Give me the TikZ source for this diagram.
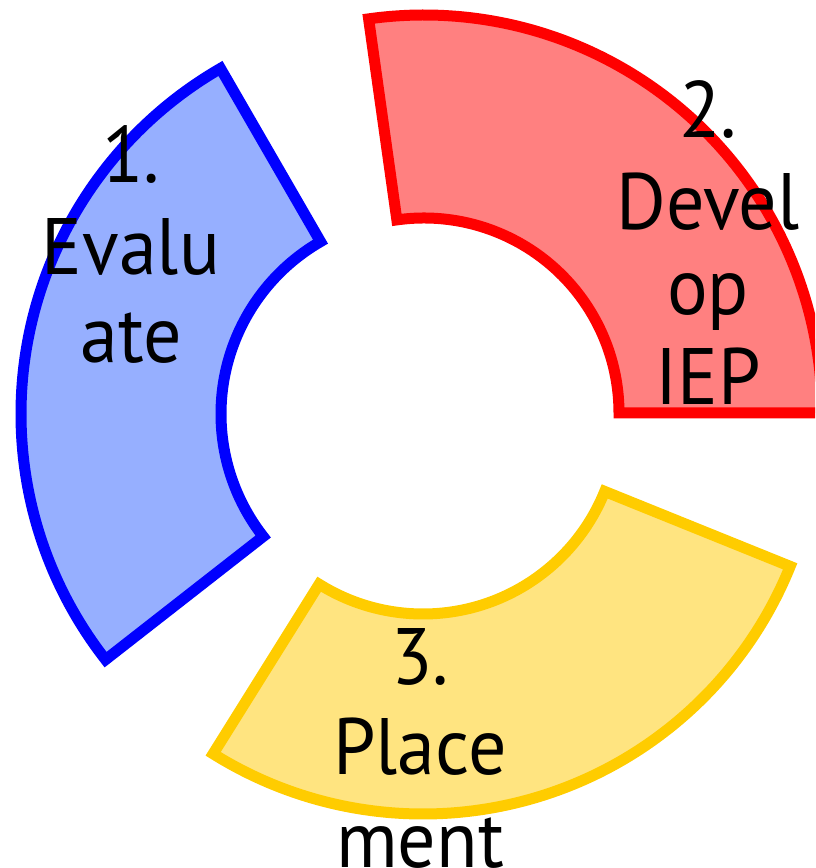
\documentclass[tikz,border=0pt]{standalone}
\usepackage{fontspec}
\setmainfont{PT Sans}[FakeStretch=0.95]
\definecolor{bluefill}{RGB}{150,175,255}
\definecolor{bluedraw}{RGB}{0,0,255}
\definecolor{redfill}{RGB}{255,128,128}
\definecolor{reddraw}{RGB}{255,0,0}
\definecolor{yelfill}{RGB}{255,228,128}
\definecolor{yeldraw}{RGB}{255,204,0}
\tikzset{
  seg/.style={line width=11pt, line join=miter},
  lbl/.style={anchor=base, inner sep=0pt, font=\fontsize{80}{88}\selectfont, text=black},
}
\begin{document}
\begin{tikzpicture}[x=1pt,y=1pt]
\useasboundingbox (0,0) rectangle (815,868);
\clip (0,0) rectangle (815,868);
% red sector: 0..98 deg
\coordinate (cr) at (424,455);
\draw[seg, fill=redfill, draw=reddraw]
  ([shift={(0:195)}]cr) -- ([shift={(0:398)}]cr)
  arc[start angle=0, end angle=98, radius=398]
  -- ([shift={(98:195)}]cr)
  arc[start angle=98, end angle=0, radius=195] -- cycle;
% blue sector: 120..218 deg
\coordinate (cb) at (420,454);
\draw[seg, fill=bluefill, draw=bluedraw]
  ([shift={(120:199)}]cb) -- ([shift={(120:399)}]cb)
  arc[start angle=120, end angle=218, radius=399]
  -- ([shift={(218:199)}]cb)
  arc[start angle=218, end angle=120, radius=199] -- cycle;
% yellow sector: 238..338 deg
\coordinate (cy) at (423,450);
\draw[seg, fill=yelfill, draw=yeldraw]
  ([shift={(238:196)}]cy) -- ([shift={(238:396)}]cy)
  arc[start angle=238, end angle=338, radius=396]
  -- ([shift={(338:196)}]cy)
  arc[start angle=338, end angle=238, radius=196] -- cycle;
% labels
\node[lbl] (a1) at (131,685) {1.};
\node[lbl] (a2) at (131,593) {Evalu};
\node[lbl] (a3) at (131,505) {ate};
\node[lbl] (b1) at (708,730) {2.};
\node[lbl] (b2) at (708,638) {Devel};
\node[lbl] (b3) at (708,553) {op};
\node[lbl] (b4) at (708,463) {IEP};
\node[lbl] (c1) at (420,183) {3.};
\node[lbl] (c2) at (420,93) {Place};
\node[lbl] (c3) at (420,1) {ment};
\end{tikzpicture}
\end{document}
